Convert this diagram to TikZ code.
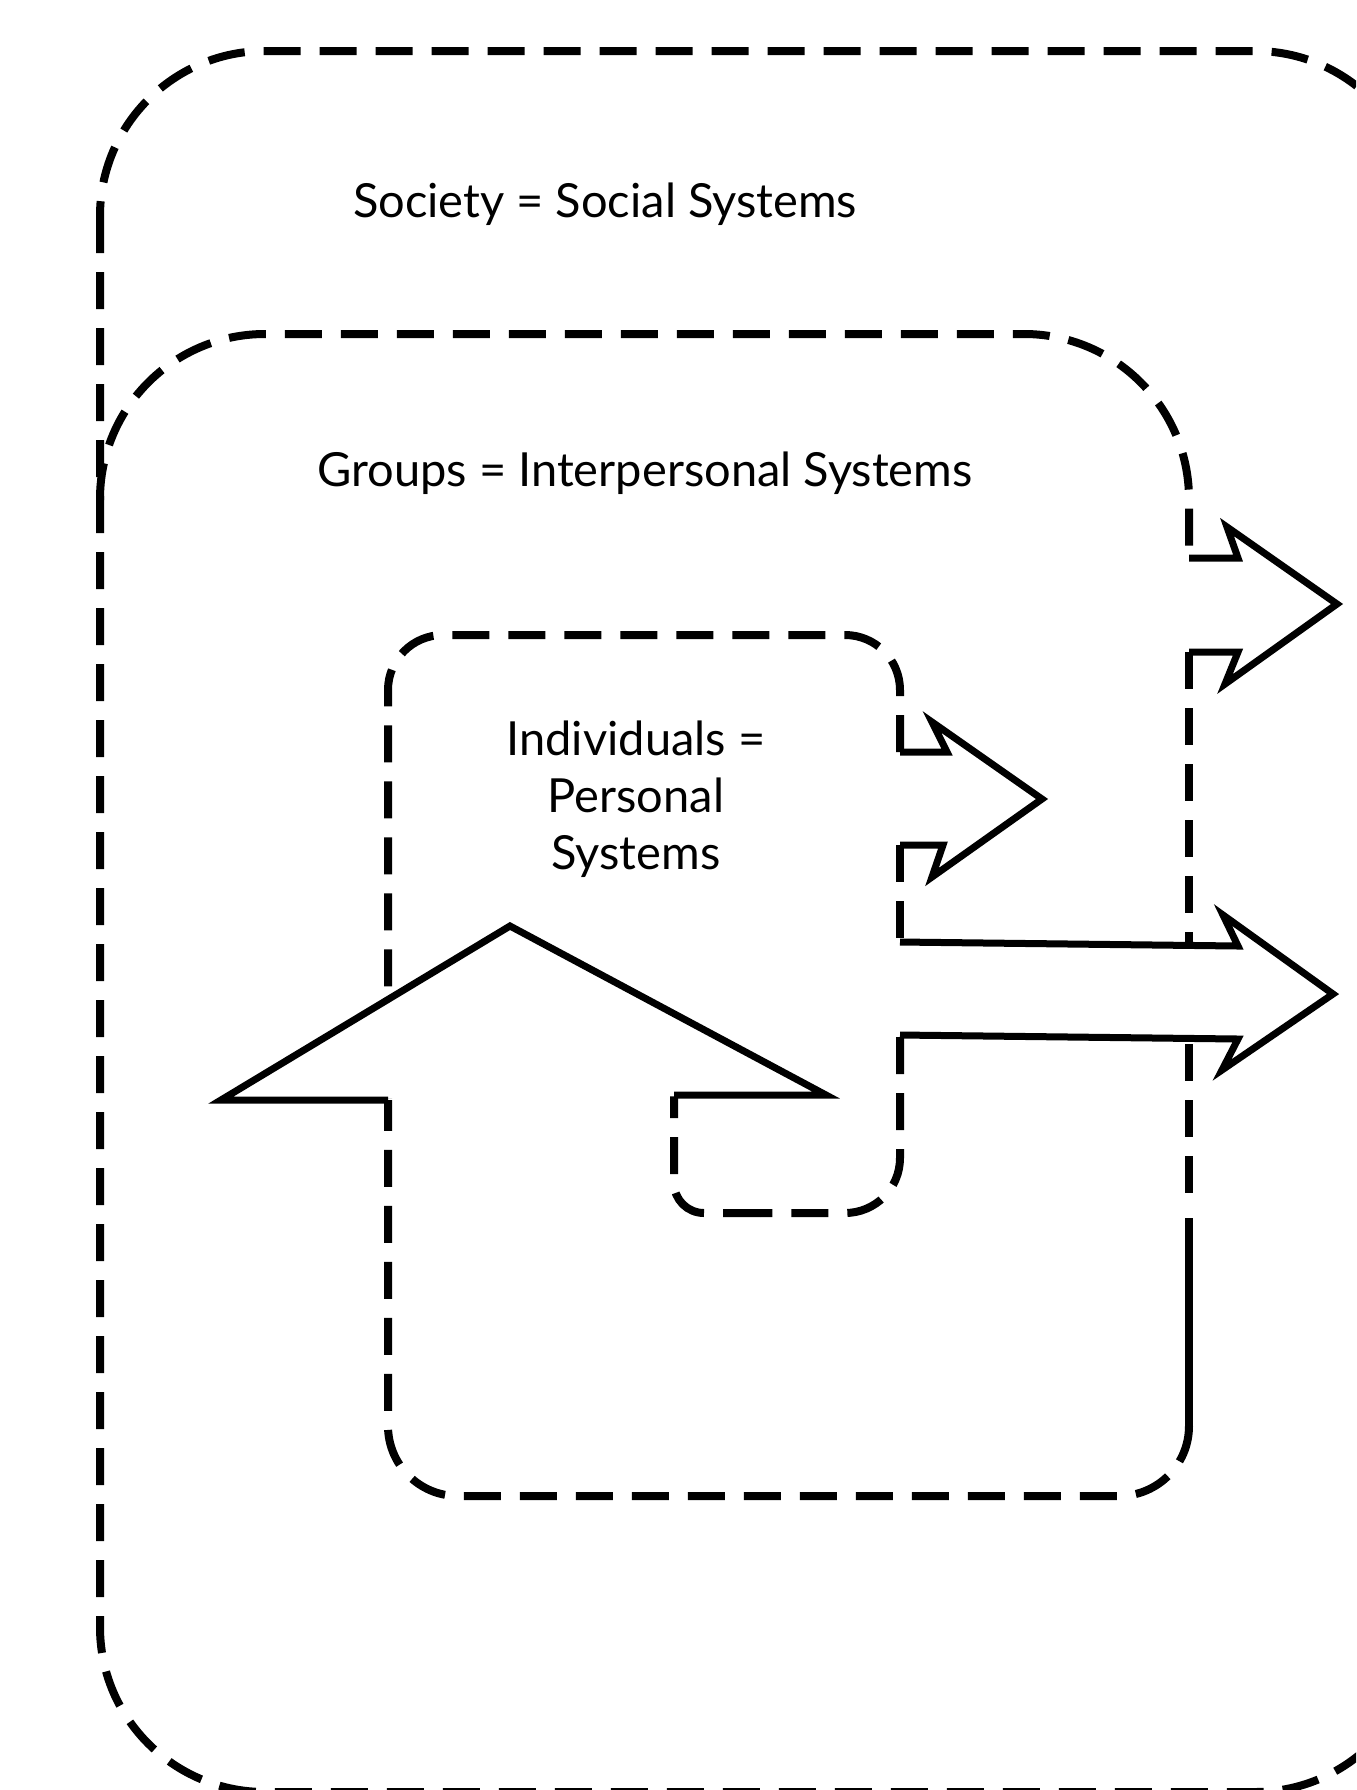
\documentclass[tikz,border=0pt]{standalone}
\usepackage{fontspec}
\setmainfont{Lato}
\begin{document}
\begin{tikzpicture}[x=0.5pt,y=-0.5pt,
  box/.style={line width=4pt, dash pattern=on 18.5pt off 9.5pt},
  solidline/.style={line width=4pt},
  arrowline/.style={line width=3.5pt, line join=miter},
  lbl/.style={font=\fontsize{23.5pt}{28.5pt}\selectfont, inner sep=0pt, align=center}]
\useasboundingbox (0,0) rectangle (1356,1790);
\clip (0,0) rectangle (1356,1790);
\fill[white] (0,0) rectangle (1356,1790);

% Society (outer) box
\draw[box, rounded corners=82.5pt] (100,51) rectangle (1420,1792);

% Groups (middle) box
\draw[box, rounded corners=82.5pt] (100,500) -- (100,334) -- (1189,334) -- (1189,558);
\draw[box] (1189,652) -- (1189,1210);
\draw[solidline] (1189,1218) -- (1189,1430);
\draw[box, rounded corners=35pt] (1189,1426) -- (1189,1496) -- (388,1496) -- (388,1100);

% Individuals (inner) box
\draw[box, rounded corners=27.5pt] (900,752) -- (900,635) -- (388,635) -- (388,1100);
\draw[box] (900,845) -- (900,944);
\draw[box, rounded corners=27.5pt] (900,1037) -- (900,1213) -- (760,1213);
\draw[box, rounded corners=15pt] (760,1213) -- (674,1213) -- (674,1095);

% arrow from Individuals across Groups
\fill[white] (900,942) -- (1238,946) -- (1223,915) -- (1333,994) -- (1222,1070) -- (1238,1039) -- (900,1035) -- cycle;
\draw[arrowline] (900,942) -- (1238,946) -- (1223,915) -- (1333,994) -- (1222,1070) -- (1238,1039) -- (900,1035);

% arrow out of Groups
\fill[white] (1189,558) -- (1238,558) -- (1227,527) -- (1337,604) -- (1225,684) -- (1238,652) -- (1189,652) -- cycle;
\draw[arrowline] (1189,558) -- (1238,558) -- (1227,527) -- (1337,604) -- (1225,684) -- (1238,652) -- (1189,652);

% arrow out of Individuals
\fill[white] (900,752) -- (947,752) -- (932,722) -- (1042,799) -- (932,877) -- (943,845) -- (900,845) -- cycle;
\draw[arrowline] (900,752) -- (947,752) -- (932,722) -- (1042,799) -- (932,877) -- (943,845) -- (900,845);

% upward arrow head
\fill[white] (221,1100) -- (510,926) -- (826,1095) -- cycle;
\draw[arrowline] (388,1100) -- (221,1100) -- (510,926) -- (826,1095) -- (674,1095);

% labels
\node[lbl, anchor=base] (society) at (605,217) {Society = Social Systems};
\node[lbl, anchor=base] (groups) at (645,486) {Groups = Interpersonal Systems};
\node[lbl, anchor=base] (indiv) at (636,869) {Individuals =\\Personal\\Systems};
\end{tikzpicture}
\end{document}
